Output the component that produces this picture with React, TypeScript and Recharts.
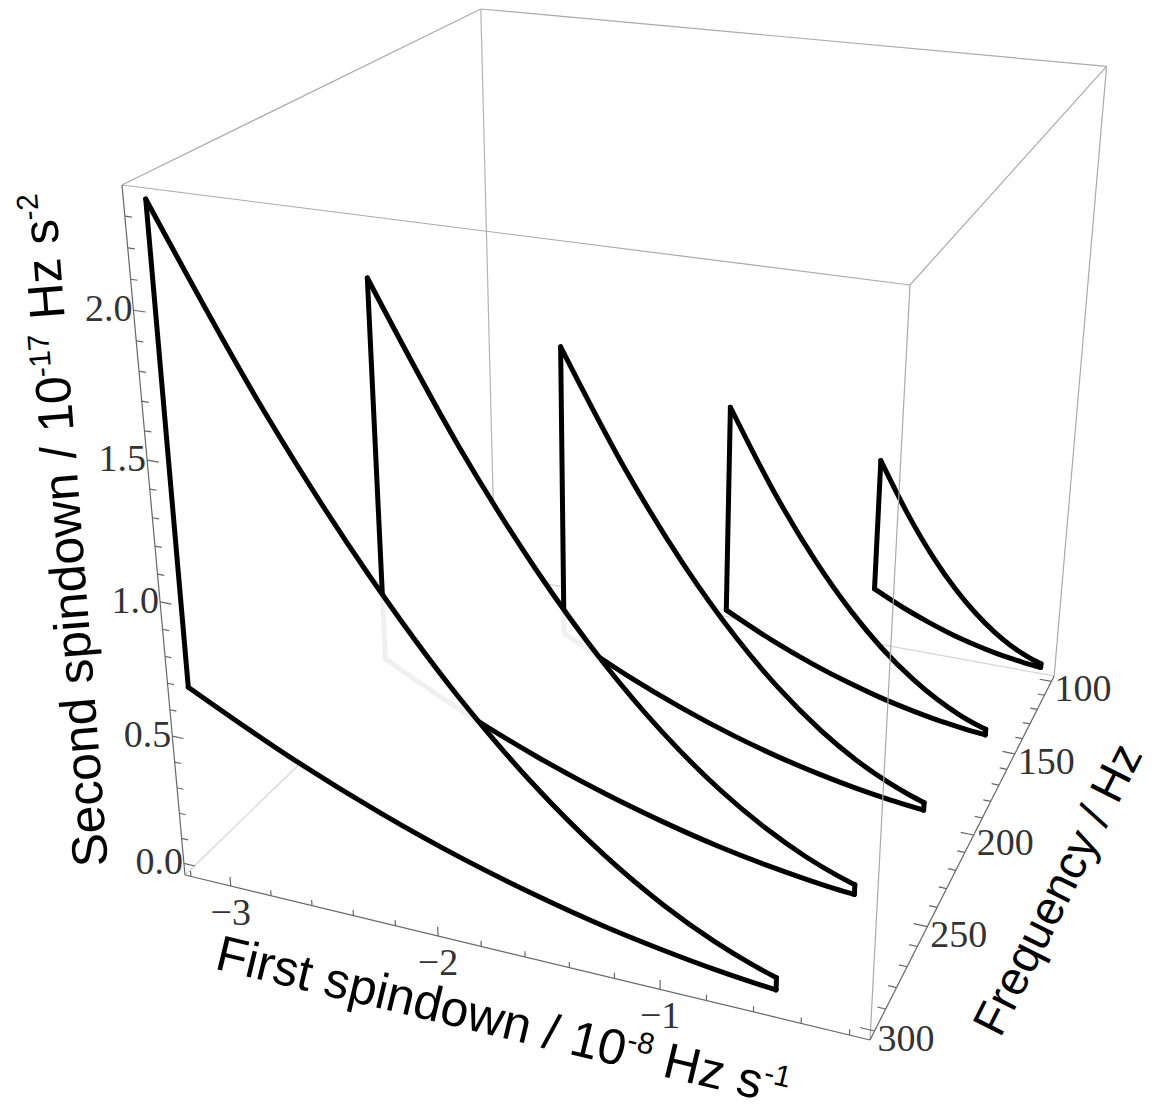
import React from 'react';
import { ScatterChart, Scatter, XAxis, YAxis } from 'recharts';

const W = 1154;
const H = 1109;

const frequencies = [100, 150, 200, 250, 300];

// first spindown samples along each slice, 10^-8 Hz/s
const spindown100 = [-1.057, -0.898, -0.761, -0.634, -0.528, -0.423, -0.338, -0.264, -0.211, -0.176];
const spindown150 = [-1.585, -1.347, -1.141, -0.951, -0.793, -0.634, -0.507, -0.396, -0.317, -0.264];
const spindown200 = [-2.113, -1.796, -1.521, -1.268, -1.057, -0.845, -0.676, -0.528, -0.423, -0.352];
const spindown250 = [-2.642, -2.246, -1.902, -1.585, -1.321, -1.057, -0.845, -0.661, -0.528, -0.44];
const spindown300 = [-3.17, -2.695, -2.282, -1.902, -1.585, -1.268, -1.014, -0.793, -0.634, -0.528];

// second spindown, upper edge of each slice, 10^-17 Hz/s^2
const upper100 = [0.782, 0.565, 0.405, 0.281, 0.195, 0.125, 0.08, 0.049, 0.031, 0.022];
const upper150 = [1.172, 0.847, 0.608, 0.422, 0.293, 0.188, 0.12, 0.073, 0.047, 0.033];
const upper200 = [1.563, 1.129, 0.81, 0.563, 0.391, 0.25, 0.16, 0.098, 0.063, 0.043];
const upper250 = [1.954, 1.412, 1.013, 0.703, 0.489, 0.313, 0.2, 0.122, 0.078, 0.054];
const upper300 = [2.345, 1.694, 1.216, 0.844, 0.586, 0.375, 0.24, 0.147, 0.094, 0.065];

// second spindown, lower edge of each slice
const lower100 = [0.223, 0.161, 0.116, 0.08, 0.056, 0.036, 0.023, 0.014, 0.009, 0.006];
const lower150 = [0.335, 0.242, 0.174, 0.121, 0.084, 0.054, 0.034, 0.021, 0.013, 0.009];
const lower200 = [0.447, 0.323, 0.232, 0.161, 0.112, 0.072, 0.046, 0.028, 0.018, 0.012];
const lower250 = [0.558, 0.403, 0.289, 0.201, 0.14, 0.089, 0.057, 0.035, 0.022, 0.016];
const lower300 = [0.67, 0.484, 0.347, 0.241, 0.168, 0.107, 0.069, 0.042, 0.027, 0.019];

// box extents
const spindownRange = [-3.23, -0.116];
const secondRange = [-0.047, 2.397];
const freqRange = [304, 96]; // front, back

// ticks
const secondTicks = [0, 0.1, 0.2, 0.3, 0.4, 0.5, 0.6, 0.7, 0.8, 0.9, 1, 1.1, 1.2, 1.3, 1.4, 1.5, 1.6, 1.7, 1.8, 1.9, 2, 2.1, 2.2, 2.3];
const secondMajor = [0, 0.5, 1, 1.5, 2];
const spindownTicks = [-3.2, -3, -2.8, -2.6, -2.4, -2.2, -2, -1.8, -1.6, -1.4, -1.2, -1, -0.8, -0.6, -0.4, -0.2];
const spindownMajor = [-3, -2, -1];
const freqTicks = [100, 110, 120, 130, 140, 150, 160, 170, 180, 190, 200, 210, 220, 230, 240, 250, 260, 270, 280, 290, 300];
const freqMajor = [100, 150, 200, 250, 300];

// perspective view of the unit box (rows: screen x, screen y, depth)
const CAM_X = [595.65, 438.3, -78.31, 185];
const CAM_Y = [58.19, -151.6, -713.22, 875];
const CAM_W = [-0.1027, 0.259, -0.1255, 1];

type Pt = { x: number; y: number };

function project(sd: number, f: number, sdd: number): Pt {
  const u = (sd - spindownRange[0]) / (spindownRange[1] - spindownRange[0]);
  const v = (f - freqRange[0]) / (freqRange[1] - freqRange[0]);
  const w = (sdd - secondRange[0]) / (secondRange[1] - secondRange[0]);
  const dot = (c: number[]) => c[0] * u + c[1] * v + c[2] * w + c[3];
  const h = dot(CAM_W);
  return { x: dot(CAM_X) / h, y: dot(CAM_Y) / h };
}

// back slice first, so the nearer (opaque) slices hide it
const slices = [
  { f: frequencies[0], sd: spindown100, hi: upper100, lo: lower100 },
  { f: frequencies[1], sd: spindown150, hi: upper150, lo: lower150 },
  { f: frequencies[2], sd: spindown200, hi: upper200, lo: lower200 },
  { f: frequencies[3], sd: spindown250, hi: upper250, lo: lower250 },
  { f: frequencies[4], sd: spindown300, hi: upper300, lo: lower300 },
];

const [S0, S1] = spindownRange;
const [Z0, Z1] = secondRange;
const [FF, FB] = freqRange;

type Edge = { a: number[]; b: number[]; c: string };
const backEdges: Edge[] = [
  { a: [S0, FF, Z1], b: [S0, FB, Z1], c: '#aaa' },
  { a: [S0, FB, Z1], b: [S1, FB, Z1], c: '#aaa' },
  { a: [S1, FF, Z1], b: [S1, FB, Z1], c: '#aaa' },
  { a: [S1, FB, Z0], b: [S1, FB, Z1], c: '#aaa' },
  { a: [S0, FB, Z0], b: [S0, FB, Z1], c: '#b4b4b4' },
  { a: [S0, FB, Z0], b: [S0, FF, Z0], c: '#d4d4d4' },
  { a: [S0, FB, Z0], b: [S1, FB, Z0], c: '#d4d4d4' },
];
const frontEdges: Edge[] = [
  { a: [S0, FF, Z1], b: [S1, FF, Z1], c: '#aaa' },
  { a: [S1, FF, Z0], b: [S1, FF, Z1], c: '#aaa' },
  { a: [S0, FF, Z0], b: [S0, FF, Z1], c: '#666' },
  { a: [S0, FF, Z0], b: [S1, FF, Z0], c: '#666' },
  { a: [S1, FF, Z0], b: [S1, FB, Z0], c: '#666' },
];

const tickSegs: Pt[][] = [];
secondTicks.forEach(t => {
  const len = secondMajor.includes(t) ? 0.055 : 0.032;
  tickSegs.push([project(S0, FF, t), project(S0 + len, FF, t)]);
});
spindownTicks.forEach(t => {
  const len = spindownMajor.includes(t) ? 0.036 : 0.022;
  tickSegs.push([project(t, FF, Z0), project(t, FF, Z0 + len)]);
});
freqTicks.forEach(t => {
  const len = freqMajor.includes(t) ? 0.06 : 0.035;
  tickSegs.push([project(S1, t, Z0), project(S1 - len, t, Z0)]);
});

const tickLabels = [
  ...secondMajor.map(t => ({ ...project(S0, FF, t), text: t.toFixed(1), kind: 'z' })),
  ...spindownMajor.map(t => ({ ...project(t, FF, Z0), text: '\u2212' + Math.abs(t), kind: 'x' })),
  ...freqMajor.map(t => ({ ...project(S1, t, Z0), text: String(t), kind: 'f' })),
];

const noMark = () => <g />;

const renderTickLabel = (props: any) => {
  const d = props.payload ?? props;
  const { cx, cy } = props;
  let x = cx;
  let y = cy;
  let anchor: 'start' | 'middle' | 'end' = 'middle';
  if (d.kind === 'z') { x = cx - 1; y = cy - 2; anchor = 'end'; }
  if (d.kind === 'x') { y = cy + 26; }
  if (d.kind === 'f') { x = cx + 3; y = cy + 7; anchor = 'start'; }
  return (
    <text x={x} y={y} textAnchor={anchor} dominantBaseline="central"
      fontFamily="'Liberation Serif', 'Times New Roman', serif" fontSize={38} fill="#333">
      {d.text}
    </text>
  );
};

const outline = { stroke: '#000', strokeWidth: 5, fill: 'none', strokeLinecap: 'round', strokeLinejoin: 'round' };
const surface = { stroke: 'none', fill: '#fff', fillOpacity: 0.94 };

const seg = (key: string, pts: Pt[], color: string) => (
  <Scatter key={key} data={pts} line={{ stroke: color, strokeWidth: 1.2, fill: 'none' }}
    shape={noMark} isAnimationActive={false} />
);

const edgeSeries = (edges: Edge[], prefix: string) =>
  edges.map((e, i) => seg(`${prefix}${i}`, [project(e.a[0], e.a[1], e.a[2]), project(e.b[0], e.b[1], e.b[2])], e.c));

const sliceSeries = slices.flatMap(s => {
  const n = s.sd.length - 1;
  const hi = s.sd.map((d, i) => project(d, s.f, s.hi[i]));
  const lo = s.sd.map((d, i) => project(d, s.f, s.lo[i]));
  return [
    <Scatter key={`s${s.f}`} data={[...hi, ...lo.slice().reverse()]} line={surface}
      shape={noMark} isAnimationActive={false} />,
    <Scatter key={`h${s.f}`} data={hi} line={outline} lineJointType="monotoneX"
      shape={noMark} isAnimationActive={false} />,
    <Scatter key={`l${s.f}`} data={lo} line={outline} lineJointType="monotoneX"
      shape={noMark} isAnimationActive={false} />,
    <Scatter key={`a${s.f}`} data={[lo[0], hi[0]]} line={outline}
      shape={noMark} isAnimationActive={false} />,
    <Scatter key={`b${s.f}`} data={[lo[n], hi[n]]} line={outline}
      shape={noMark} isAnimationActive={false} />,
  ];
});

const titleBase: React.CSSProperties = {
  position: 'absolute',
  whiteSpace: 'nowrap',
  lineHeight: 1,
  fontFamily: "'Liberation Sans', Arial, sans-serif",
  fontSize: 50,
  color: '#000',
};
const sup: React.CSSProperties = { fontSize: '0.6em', verticalAlign: '0.6em' };

export default function App() {
  return (
    <div style={{ position: 'absolute', left: 0, top: 0, width: W, height: H, background: '#fff', overflow: 'hidden' }}>
      <ScatterChart width={W} height={H} margin={{ top: 0, right: 0, bottom: 0, left: 0 }}>
        <XAxis type="number" dataKey="x" domain={[0, W]} allowDataOverflow hide />
        <YAxis type="number" dataKey="y" domain={[0, H]} allowDataOverflow reversed hide />
        {edgeSeries(backEdges, 'be')}
        {sliceSeries}
        {edgeSeries(frontEdges, 'fe')}
        {tickSegs.map((t, i) => seg(`t${i}`, t, '#666'))}
        <Scatter data={tickLabels} shape={renderTickLabel} isAnimationActive={false} />
      </ScatterChart>
      <div style={{ ...titleBase, left: 64, top: 530, transform: 'translate(-50%, -50%) rotate(-94.5deg)' }}>
        Second spindown / 10<span style={sup}>-17</span> Hz s<span style={sup}>-2</span>
      </div>
      <div style={{ ...titleBase, left: 503, top: 1020, transform: 'translate(-50%, -50%) rotate(13.5deg)' }}>
        First spindown / 10<span style={sup}>-8</span> Hz s<span style={sup}>-1</span>
      </div>
      <div style={{ ...titleBase, fontSize: 47, left: 1057, top: 889, transform: 'translate(-50%, -50%) rotate(-63.3deg)' }}>
        Frequency / Hz
      </div>
    </div>
  );
}
